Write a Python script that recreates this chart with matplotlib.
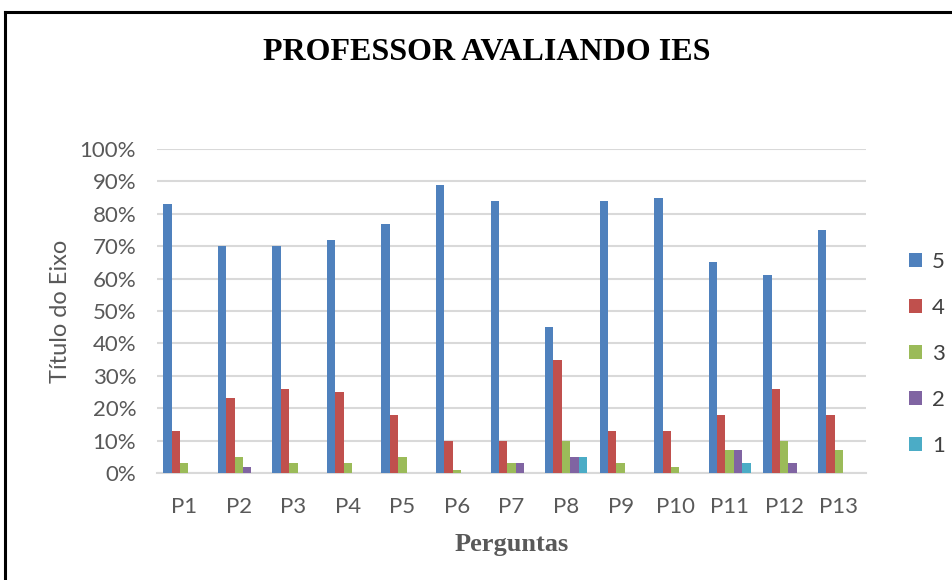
import matplotlib
matplotlib.use('Agg')
import matplotlib.pyplot as plt
import numpy as np
from matplotlib.lines import Line2D
from matplotlib.patches import Patch

##### data (percent) #####
perguntas = ['P1', 'P2', 'P3', 'P4', 'P5', 'P6', 'P7', 'P8', 'P9', 'P10', 'P11', 'P12', 'P13']
nota_5 = [83, 70, 70, 72, 77, 89, 84, 45, 84, 85, 65, 61, 75]
nota_4 = [13, 23, 26, 25, 18, 10, 10, 35, 13, 13, 18, 26, 18]
nota_3 = [3, 5, 3, 3, 5, 1, 3, 10, 3, 2, 7, 10, 7]
nota_2 = [0, 2, 0, 0, 0, 0, 3, 5, 0, 0, 7, 3, 0]
nota_1 = [0, 0, 0, 0, 0, 0, 0, 5, 0, 0, 3, 0, 0]
series_labels = ['5', '4', '3', '2', '1']
series_colors = ['#4F81BD', '#C0504D', '#9BBB59', '#8064A2', '#4BACC6']

tick_font = 'Lato'
tick_color = '#595959'

fig = plt.figure(figsize=(9.53, 5.8), dpi=100)
ax = fig.add_axes([157/953, 1 - 473/580, 709/953, 324/580])

x = np.arange(len(perguntas))
bar_w = 1 / 6.5
all_series = [nota_5, nota_4, nota_3, nota_2, nota_1]
for i, vals in enumerate(all_series):
    ax.bar(x + (i - 2) * bar_w, np.array(vals) / 100.0, width=bar_w,
           color=series_colors[i], zorder=3)

ax.set_xlim(-0.5, len(perguntas) - 0.5)
ax.set_ylim(0, 1.0)
yt = np.arange(0, 1.01, 0.1)
ax.set_yticks(yt)
ax.set_yticklabels(['%d%%' % round(v * 100) for v in yt], fontsize=16,
                   family=tick_font, color=tick_color)
ax.set_xticks(x)
ax.set_xticklabels(perguntas, fontsize=16, family=tick_font, color=tick_color)
ax.tick_params(axis='both', length=0)
ax.tick_params(axis='y', pad=15)
ax.tick_params(axis='x', pad=17)
ax.grid(axis='y', color='#D9D9D9', linewidth=1.5, zorder=0)
for s in ['top', 'right', 'left']:
    ax.spines[s].set_visible(False)
ax.spines['bottom'].set_color('#D9D9D9')
ax.spines['bottom'].set_linewidth(1.5)

ax.set_ylabel('Título do Eixo', fontsize=17, family=tick_font, color=tick_color, labelpad=6)
ax.set_xlabel('Perguntas', fontsize=19, family='Liberation Serif', fontweight='bold',
              color=tick_color, labelpad=12)

fig.text(487/953, 1 - 53/580, 'PROFESSOR AVALIANDO IES', ha='center', va='center',
         fontsize=23, family='Liberation Serif', fontweight='bold', color='black')

handles = [Patch(facecolor=c) for c in series_colors]
fig.legend(handles, series_labels, loc='center left', bbox_to_anchor=(893/953, 1 - 354/580),
           frameon=False, prop={'family': tick_font, 'size': 16},
           handlelength=0.6, handleheight=0.6, handletextpad=0.45, labelspacing=1.17,
           labelcolor='#404040', borderpad=0.2)

# outer border of the chart area (only left and top edges visible)
fig.add_artist(Line2D([5/953, 5/953], [0, 1 - 12/580], color='black', linewidth=2.2))
fig.add_artist(Line2D([5/953, 1], [1 - 12/580, 1 - 12/580], color='black', linewidth=2.2))

plt.savefig('out.png', dpi=100)
